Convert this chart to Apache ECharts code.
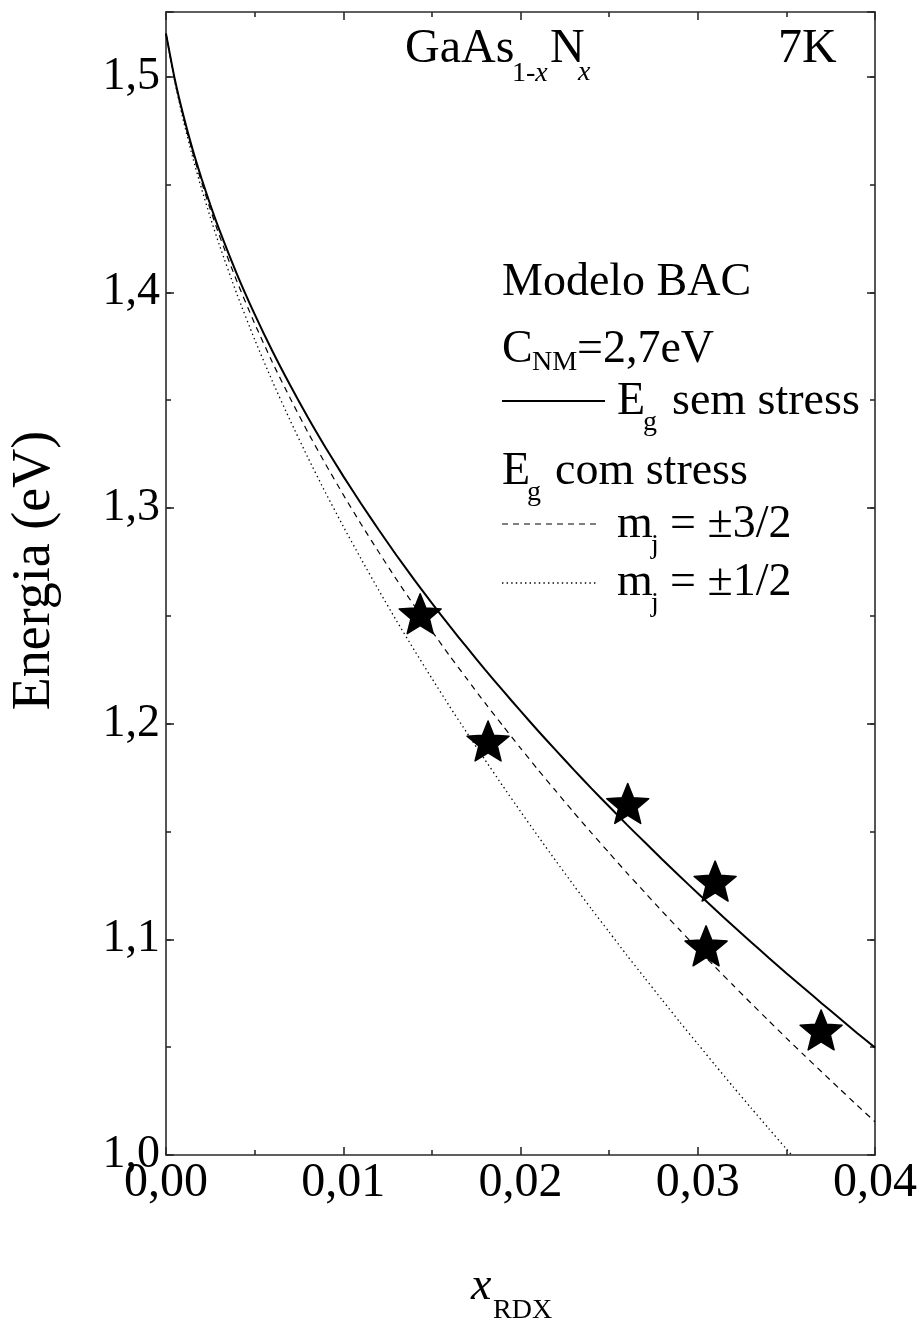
<!DOCTYPE html>
<html>
<head>
<meta charset="utf-8">
<script src="https://cdn.jsdelivr.net/npm/echarts@6/dist/echarts.min.js"></script>
<style>
  html, body { margin: 0; padding: 0; background: #fff; }
  #chart { width: 920px; height: 1325px; }
</style>
</head>
<body>
<div id="chart"></div>
<script>
// Nitrogen fraction grid shared by the band-gap curves
const xGrid = [0, 0.0005, 0.001, 0.0015, 0.002, 0.0025, 0.003,
  0.004, 0.005, 0.006, 0.007, 0.008, 0.009, 0.010, 0.011, 0.012, 0.013,
  0.014, 0.015, 0.016, 0.017, 0.018, 0.019, 0.020, 0.021, 0.022, 0.023,
  0.024, 0.025, 0.026, 0.027, 0.028, 0.029, 0.030, 0.031, 0.032, 0.033,
  0.034, 0.035, 0.036, 0.037, 0.038, 0.039, 0.040];

// E_g without strain (solid)
const egSemStress = [1.5200, 1.4987, 1.4814, 1.4663, 1.4529, 1.4406, 1.4292,
  1.4085, 1.3899, 1.3728, 1.3570, 1.3421, 1.3281, 1.3148, 1.3021, 1.2899, 1.2781,
  1.2668, 1.2559, 1.2453, 1.2351, 1.2251, 1.2154, 1.2059, 1.1966, 1.1876, 1.1787,
  1.1700, 1.1616, 1.1532, 1.1451, 1.1370, 1.1291, 1.1214, 1.1137, 1.1062, 1.0988,
  1.0915, 1.0843, 1.0773, 1.0703, 1.0634, 1.0565, 1.0498];

// E_g with strain, m_j = ±3/2 (dashed)
const egHH = [1.5200, 1.4983, 1.4805, 1.4650, 1.4512, 1.4385, 1.4266,
  1.4051, 1.3856, 1.3676, 1.3510, 1.3352, 1.3204, 1.3062, 1.2926, 1.2796, 1.2669,
  1.2548, 1.2430, 1.2315, 1.2205, 1.2096, 1.1991, 1.1887, 1.1785, 1.1687, 1.1589,
  1.1494, 1.1401, 1.1308, 1.1219, 1.1129, 1.1042, 1.0956, 1.0870, 1.0787, 1.0704,
  1.0623, 1.0542, 1.0463, 1.0385, 1.0307, 1.0230, 1.0154];

// E_g with strain, m_j = ±1/2 (dotted), runs off the bottom near x = 0.035
const egLH = [1.5200, 1.4975, 1.4791, 1.4628, 1.4482, 1.4348, 1.4222,
  1.3992, 1.3782, 1.3588, 1.3407, 1.3235, 1.3071, 1.2915, 1.2765, 1.2619, 1.2478,
  1.2342, 1.2210, 1.2080, 1.1955, 1.1832, 1.1711, 1.1593, 1.1477, 1.1363, 1.1251,
  1.1141, 1.1034, 1.0926, 1.0822, 1.0718, 1.0615, 1.0515, 1.0415, 1.0316, 1.0219,
  1.0123, 1.0028, 0.9935];

// Measured samples
const sampleX = [0.01434, 0.01817, 0.02605, 0.03098, 0.03047, 0.03696];
const sampleE = [1.251, 1.192, 1.163, 1.127, 1.097, 1.058];

// Tick labels
const xTickLabels = ['0,00', '0,01', '0,02', '0,03', '0,04'];
const yTickLabels = ['1,0', '1,1', '1,2', '1,3', '1,4', '1,5'];

const SERIF = '"Liberation Serif", "DejaVu Serif", serif';
const INK = '#000';
const AXIS = '#2b2b2b';

// five-pointed star, slightly plump
const STAR = 'path://M50,0 L62.93,32.2 L97.55,34.55 L70.92,56.8 L79.39,90.45 L50,72 L20.61,90.45 L29.08,56.8 L2.45,34.55 L37.07,32.2 Z';

const toPairs = (xs, ys) => ys.map((y, i) => [xs[i], y]);

function xLabel(v) {
  const i = Math.round(v / 0.01);
  return Math.abs(v - i * 0.01) < 1e-9 && xTickLabels[i] !== undefined ? xTickLabels[i] : '';
}
function yLabel(v) {
  const i = Math.round((v - 1.0) / 0.1);
  return Math.abs(v - 1.0 - i * 0.1) < 1e-9 && yTickLabels[i] !== undefined ? yTickLabels[i] : '';
}

const lineStyleAxis = { color: AXIS, width: 1.6 };

function yAxisDef(pos, interval, tickLen, withLabels, withLine) {
  return {
    type: 'value', position: pos, min: 1.0, max: 1.53, interval: interval,
    axisLine: { show: withLine, lineStyle: lineStyleAxis },
    axisTick: { show: true, inside: true, length: tickLen, lineStyle: lineStyleAxis },
    axisLabel: withLabels ? {
      show: true, formatter: yLabel, margin: 6,
      fontFamily: SERIF, fontSize: 46, color: INK
    } : { show: false },
    splitLine: { show: false }
  };
}

// Small text helper: anchor given by left edge and alphabetic baseline
function txt(left, baseline, text, size, italic) {
  return {
    type: 'text', x: left, y: baseline - 0.32 * size, silent: true,
    style: {
      text: text, fill: INK, fontFamily: SERIF, fontSize: size,
      fontStyle: italic ? 'italic' : 'normal',
      align: 'left', verticalAlign: 'middle'
    }
  };
}
function seg(x1, x2, y, dash, w) {
  return {
    type: 'line', silent: true,
    shape: { x1: x1, y1: y, x2: x2, y2: y },
    style: { stroke: INK, lineWidth: w, lineDash: dash }
  };
}

const chart = echarts.init(document.getElementById('chart'), null, { renderer: 'canvas' });

chart.setOption({
  backgroundColor: '#fff',
  animation: false,
  grid: { left: 162, right: 43, top: 12, bottom: 170, containLabel: false },
  xAxis: [
    {
      type: 'value', position: 'bottom', min: 0, max: 0.04, interval: 0.01,
      axisLine: { show: true, lineStyle: lineStyleAxis },
      axisTick: { show: true, inside: true, length: 8, lineStyle: lineStyleAxis },
      minorTick: { show: true, splitNumber: 2, length: 5, lineStyle: lineStyleAxis },
      axisLabel: { show: true, formatter: xLabel, margin: 4, fontFamily: SERIF, fontSize: 48, color: INK },
      splitLine: { show: false }
    },
    {
      type: 'value', position: 'top', min: 0, max: 0.04, interval: 0.01,
      axisLine: { show: true, lineStyle: lineStyleAxis },
      axisTick: { show: true, inside: true, length: 8, lineStyle: lineStyleAxis },
      minorTick: { show: true, splitNumber: 2, length: 5, lineStyle: lineStyleAxis },
      axisLabel: { show: false },
      splitLine: { show: false }
    }
  ],
  yAxis: [
    Object.assign(yAxisDef('left', 0.1, 8, true, true), {
      name: 'Energia (eV)', nameLocation: 'middle', nameGap: 104, nameRotate: 90,
      nameTextStyle: { fontFamily: SERIF, fontSize: 54, color: INK, padding: [0, 0, 0, 26] }
    }),
    yAxisDef('left', 0.05, 5, false, false),
    yAxisDef('right', 0.1, 8, false, true),
    yAxisDef('right', 0.05, 5, false, false)
  ],
  series: [
    {
      name: 'E_g sem stress', type: 'line', xAxisIndex: 0, yAxisIndex: 0,
      data: toPairs(xGrid, egSemStress), showSymbol: false, smooth: 0.2, clip: true,
      lineStyle: { color: INK, width: 2, type: 'solid' }
    },
    {
      name: 'm_j = ±3/2', type: 'line', xAxisIndex: 0, yAxisIndex: 0,
      data: toPairs(xGrid, egHH), showSymbol: false, smooth: 0.2, clip: true,
      lineStyle: { color: INK, width: 1.2, type: [6, 5] }
    },
    {
      name: 'm_j = ±1/2', type: 'line', xAxisIndex: 0, yAxisIndex: 0,
      data: toPairs(xGrid, egLH), showSymbol: false, smooth: 0.2, clip: true,
      lineStyle: { color: INK, width: 1.3, type: [1.4, 3.2] }
    },
    {
      name: 'amostras', type: 'scatter', xAxisIndex: 0, yAxisIndex: 0,
      data: toPairs(sampleX, sampleE),
      symbol: STAR, symbolSize: 42, symbolKeepAspect: true,
      itemStyle: { color: INK, opacity: 1, borderColor: INK, borderWidth: 1.5, borderJoin: 'round' },
      z: 5
    }
  ],
  graphic: [
    // title GaAs(1-x)N(x) and temperature
    txt(405, 65, 'GaAs', 48),
    {
      type: 'text', x: 512, y: 83 - 0.32 * 28, silent: true,
      style: {
        text: '{n|1-}{i|x}', verticalAlign: 'middle', align: 'left',
        rich: {
          n: { fontFamily: SERIF, fontSize: 28, fill: INK },
          i: { fontFamily: SERIF, fontSize: 28, fontStyle: 'italic', fill: INK }
        }
      }
    },
    txt(550, 65, 'N', 48),
    txt(578, 82, 'x', 28, true),
    txt(778, 65, '7K', 48),

    // model description and line key
    txt(502, 298, 'Modelo BAC', 46),
    txt(502, 365, 'C', 46),
    txt(532, 372, 'NM', 28),
    txt(577, 365, '=2,7eV', 46),

    seg(502, 605, 401, null, 2),
    txt(617, 417, 'E', 46),
    txt(643, 432, 'g', 28),
    txt(672, 417, 'sem stress', 46),

    txt(502, 487, 'E', 46),
    txt(527, 502, 'g', 28),
    txt(555, 487, 'com stress', 46),

    seg(502, 598, 524, [6, 5], 1.2),
    txt(617, 540, 'm', 46),
    txt(651, 555, 'j', 28),
    txt(670, 540, '= \u00b13/2', 46),

    seg(502, 598, 583, [1.4, 3.2], 1.3),
    txt(617, 598, 'm', 46),
    txt(651, 613, 'j', 28),
    txt(670, 598, '= \u00b11/2', 46),

    // x-axis title
    txt(471, 1302, 'x', 46, true),
    txt(493, 1320, 'RDX', 28)
  ]
});
</script>
</body>
</html>
